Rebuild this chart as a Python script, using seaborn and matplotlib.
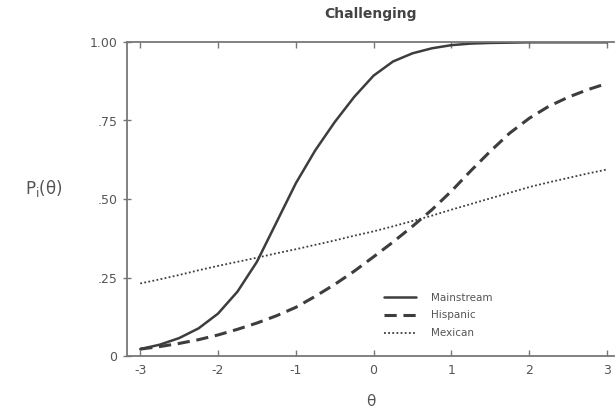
"""
Item characteristic curves for the 'Challenging' item, three groups.
"""

import pandas as pd
import matplotlib
matplotlib.use("Agg")
import matplotlib.pyplot as plt
import seaborn as sns

# values, theta step 0.25
theta = [-3.0, -2.75, -2.5, -2.25, -2.0, -1.75, -1.5, -1.25, -1.0, -0.75, -0.5, -0.25,
         0.0, 0.25, 0.5, 0.75, 1.0, 1.25, 1.5, 1.75, 2.0, 2.25, 2.5, 2.75, 3.0]

mainstream = [0.022, 0.036, 0.057, 0.088, 0.135, 0.205, 0.30, 0.425, 0.55, 0.655, 0.745, 0.825,
              0.893, 0.938, 0.964, 0.98, 0.99, 0.995, 0.997, 0.998, 0.999, 0.999, 0.999, 0.999, 0.999]

hispanic = [0.022, 0.03, 0.04, 0.052, 0.067, 0.085, 0.105, 0.128, 0.155, 0.19, 0.228, 0.27,
            0.316, 0.363, 0.413, 0.466, 0.525, 0.59, 0.652, 0.71, 0.757, 0.795, 0.824, 0.848, 0.868]

mexican = [0.231, 0.244, 0.258, 0.273, 0.287, 0.30, 0.313, 0.327, 0.34, 0.354, 0.368, 0.383,
           0.397, 0.413, 0.43, 0.447, 0.466, 0.484, 0.502, 0.52, 0.538, 0.553, 0.567, 0.581, 0.594]

groups = ["Mainstream", "Hispanic", "Mexican"]
y_ticks = [0, 0.25, 0.5, 0.75, 1.0]
y_tick_labels = ["0", ".25", ".50", ".75", "1.00"]
x_ticks = [-3, -2, -1, 0, 1, 2, 3]

df = pd.DataFrame({
    "theta": theta * 3,
    "p": mainstream + hispanic + mexican,
    "group": [g for g in groups for _ in theta],
})

sns.set_style("white")
plt.rcParams["font.family"] = ["DejaVu Sans"]

ink = "#3d3d3d"
text_col = "#555555"

fig = plt.figure(figsize=(6.15, 4.15), dpi=100)
ax = fig.add_axes([127 / 615, 1 - 356 / 415, 487 / 615, 314 / 415])

sns.lineplot(
    data=df, x="theta", y="p", style="group", style_order=groups,
    dashes={"Mainstream": "", "Hispanic": (4, 2.2), "Mexican": (1, 1.3)},
    color=ink, ax=ax, legend=False,
)
# per-line widths like the print
for line, lw in zip(ax.get_lines(), [1.8, 2.2, 1.3]):
    line.set_linewidth(lw)

ax.set_xlim(-3.17, 3.09)
ax.set_ylim(0, 1)
ax.set_xticks(x_ticks)
ax.set_xticklabels([str(t) for t in x_ticks])
ax.set_yticks(y_ticks)
ax.set_yticklabels(y_tick_labels)

ax.tick_params(axis="x", direction="in", length=4, width=1, colors="#777777",
               labelcolor=text_col, labelsize=9, top=True, bottom=True, pad=6)
ax.tick_params(axis="y", direction="inout", length=6, width=1, colors="#777777",
               labelcolor=text_col, labelsize=9, left=True, pad=4)

for side in ["left", "bottom", "top"]:
    ax.spines[side].set_color("#777777")
    ax.spines[side].set_linewidth(1.3)
ax.spines["right"].set_visible(False)

ax.set_title("Challenging", fontsize=10, fontweight="bold", color="#444444", pad=17)
ax.set_xlabel("θ", fontsize=11, color=text_col, labelpad=12)
ax.set_ylabel(r"P$_\mathrm{i}$(θ)", fontsize=12, color=text_col, rotation=0)
ax.yaxis.set_label_coords(-0.17, 0.5)

handles = ax.get_lines()[:3]
ax.legend(handles, groups, frameon=False, fontsize=7.5, handlelength=3.0,
          labelcolor=text_col, loc="upper left", bbox_to_anchor=(0.52, 0.215),
          labelspacing=0.75, handletextpad=1.5, borderaxespad=0)

fig.savefig("out.png", dpi=100)
